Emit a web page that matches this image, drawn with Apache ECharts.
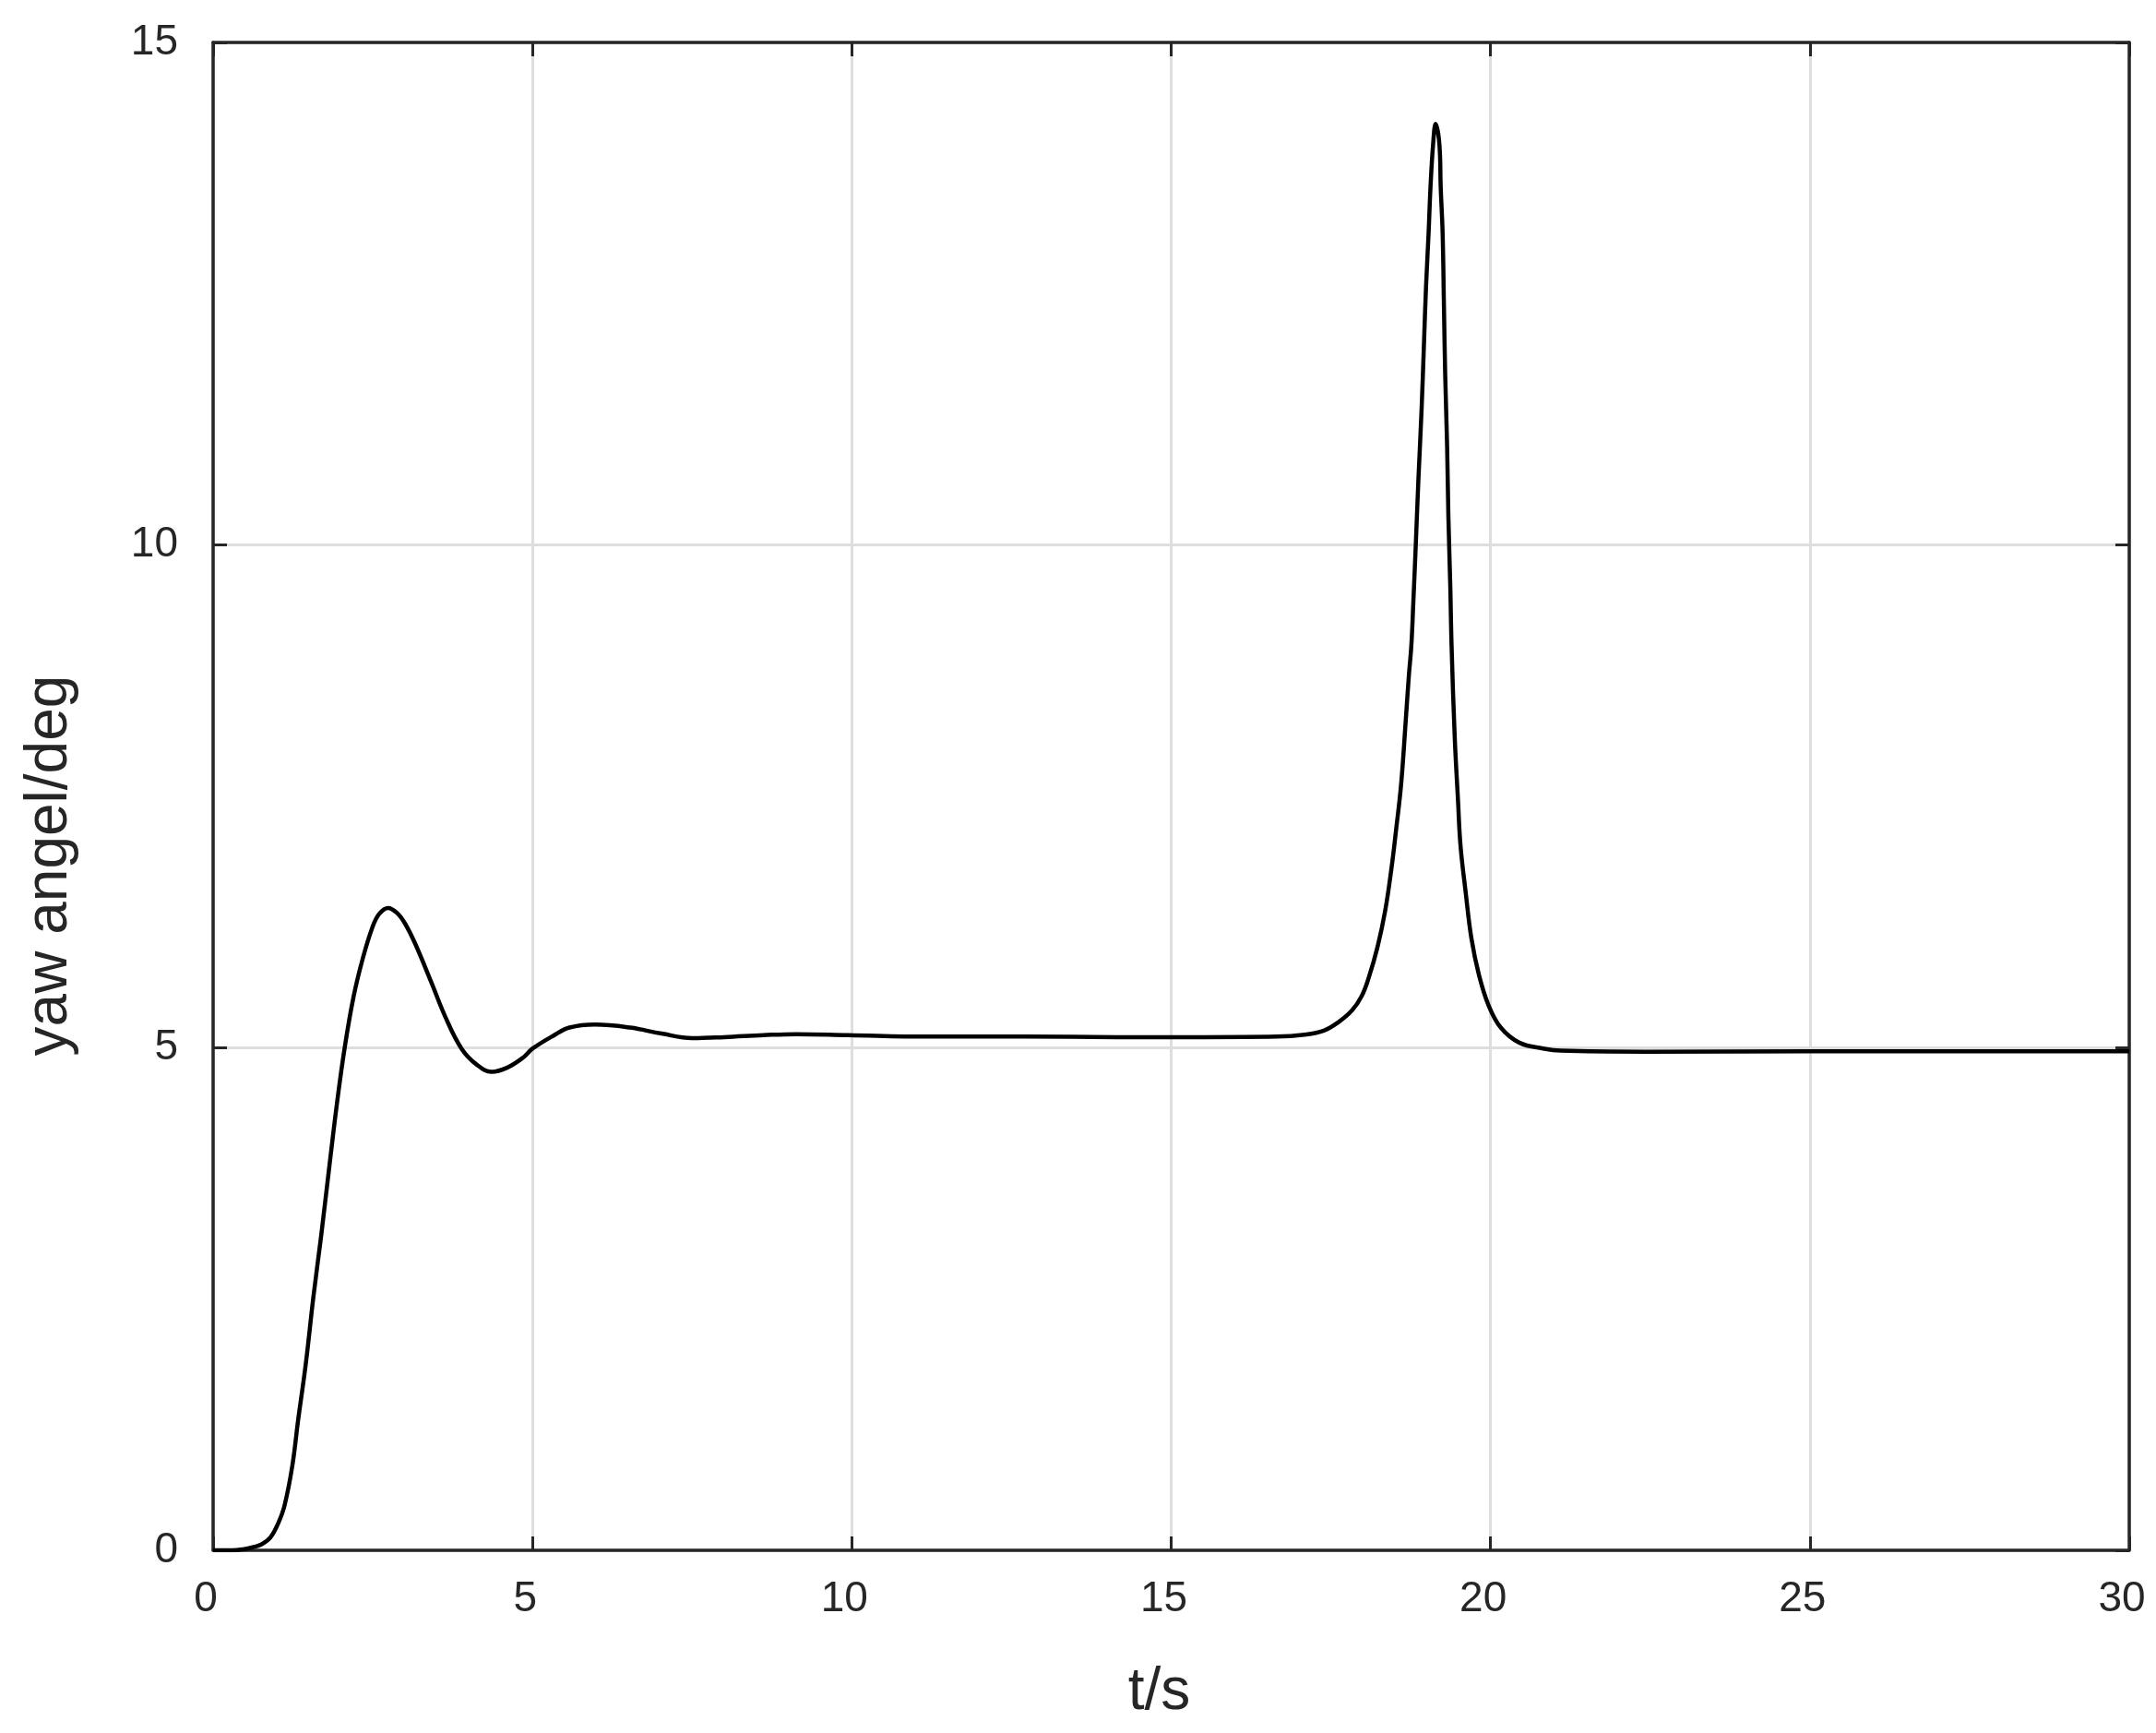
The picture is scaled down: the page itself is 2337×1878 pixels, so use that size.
<!doctype html>
<html>
<head>
	<meta charset="utf-8">
	<title>yaw angel</title>
	<script src="https://cdn.jsdelivr.net/npm/echarts@6/dist/echarts.min.js"></script>
	<style>
		html, body { margin: 0; padding: 0; background: #fff; }
		#main { width: 2337px; height: 1878px; }
	</style>
</head>
<body>
<div id="main"></div>
<script>
	// time axis (s) and yaw angle (deg)
	var timeS = [0, 0.3, 0.47, 0.62, 0.76, 0.90, 1.02, 1.12, 1.24, 1.33, 1.45, 1.57, 1.69, 1.82, 1.94, 2.06, 2.20, 2.34, 2.49, 2.60,
		2.74, 2.88, 3.00, 3.16, 3.41, 3.64, 3.89, 4.13, 4.36, 4.60, 4.85, 5.0, 5.33, 5.58, 5.98, 6.53, 7.02, 7.50, 8.0, 8.62,
		9.13, 9.94, 11.19, 12.7, 14.14, 15.5, 16.65, 17.09, 17.39, 17.61, 17.83, 17.98, 18.09, 18.23, 18.35, 18.45, 18.52, 18.60, 18.67, 18.72,
		18.76, 18.79, 18.83, 18.87, 18.92, 18.96, 18.99, 19.03, 19.06, 19.10, 19.14, 19.20, 19.22, 19.25, 19.27, 19.29, 19.32, 19.34, 19.37, 19.39,
		19.44, 19.49, 19.53, 19.61, 19.70, 19.82, 19.97, 20.16, 20.45, 20.84, 21.10, 22.43, 25.0, 30.0]
	var yawDeg = [0, 0, 0.01, 0.03, 0.06, 0.13, 0.27, 0.45, 0.84, 1.29, 1.85, 2.52, 3.12, 3.82, 4.45, 5.0, 5.51, 5.88, 6.19, 6.33,
		6.39, 6.34, 6.24, 6.04, 5.66, 5.30, 4.99, 4.83, 4.76, 4.80, 4.90, 4.99, 5.12, 5.20, 5.23, 5.20, 5.14, 5.095, 5.105, 5.125,
		5.135, 5.125, 5.11, 5.11, 5.105, 5.105, 5.11, 5.13, 5.17, 5.25, 5.37, 5.51, 5.69, 6.0, 6.36, 6.79, 7.16, 7.62, 8.23, 8.69,
		9.0, 9.41, 10.01, 10.64, 11.34, 12.04, 12.57, 13.10, 13.56, 13.98, 14.19, 13.98, 13.56, 13.10, 12.40, 11.70, 10.99, 10.29, 9.59, 9.0,
		8.08, 7.47, 7.01, 6.55, 6.09, 5.72, 5.42, 5.20, 5.05, 4.99, 4.97, 4.96, 4.965, 4.965]
	var xTicks = [0, 5, 10, 15, 20, 25, 30]
	var yTicks = [0, 5, 10, 15]

	var pts = []
	for (var i = 0; i < timeS.length; i++) {
		pts.push([timeS[i], yawDeg[i]])
	}

	var font = "'Liberation Sans', Arial, sans-serif"
	var axisCol = '#262626'
	var lineSty = { color: axisCol, width: 3.5 }
	var tickSty = { show: true, inside: true, length: 15, lineStyle: { color: axisCol, width: 3 } }
	var gridSty = { show: true, lineStyle: { color: '#dedede', width: 3 } }

	var myChart = echarts.init(document.getElementById('main'))
	var option = {
		backgroundColor: '#fff',
		animation: false,
		grid: { left: 231, right: 29, top: 46, bottom: 198 },
		xAxis: [{
			type: 'value',
			min: xTicks[0], max: xTicks[xTicks.length - 1], interval: 5,
			name: 't/s', nameLocation: 'middle', nameGap: 122,
			nameTextStyle: { fontFamily: font, fontSize: 64, color: axisCol, padding: [0, 26, 0, 0] },
			axisLine: { show: true, onZero: false, lineStyle: lineSty },
			axisTick: tickSty,
			axisLabel: { fontFamily: font, fontSize: 46, color: axisCol, margin: 30, padding: [0, 16, 0, 0] },
			splitLine: gridSty
		}, {
			type: 'value', position: 'top',
			min: xTicks[0], max: xTicks[xTicks.length - 1], interval: 5,
			axisLine: { show: true, onZero: false, lineStyle: lineSty },
			axisTick: tickSty,
			axisLabel: { show: false },
			splitLine: { show: false }
		}],
		yAxis: [{
			type: 'value',
			min: yTicks[0], max: yTicks[yTicks.length - 1], interval: 5,
			name: 'yaw angel/deg', nameLocation: 'middle', nameGap: 145,
			nameTextStyle: { fontFamily: font, fontSize: 64, color: axisCol, padding: [0, 150, 0, 0] },
			axisLine: { show: true, onZero: false, lineStyle: lineSty },
			axisTick: tickSty,
			axisLabel: { fontFamily: font, fontSize: 46, color: axisCol, margin: 38, padding: [0, 0, 36, 0] },
			splitLine: gridSty
		}, {
			type: 'value', position: 'right',
			min: yTicks[0], max: yTicks[yTicks.length - 1], interval: 5,
			axisLine: { show: true, onZero: false, lineStyle: lineSty },
			axisTick: tickSty,
			axisLabel: { show: false },
			splitLine: { show: false }
		}],
		series: [{
			type: 'line',
			data: pts,
			smooth: 0.4,
			showSymbol: false,
			lineStyle: { color: '#000', width: 4.5 }
		}]
	}
	myChart.setOption(option)
</script>
</body>
</html>
